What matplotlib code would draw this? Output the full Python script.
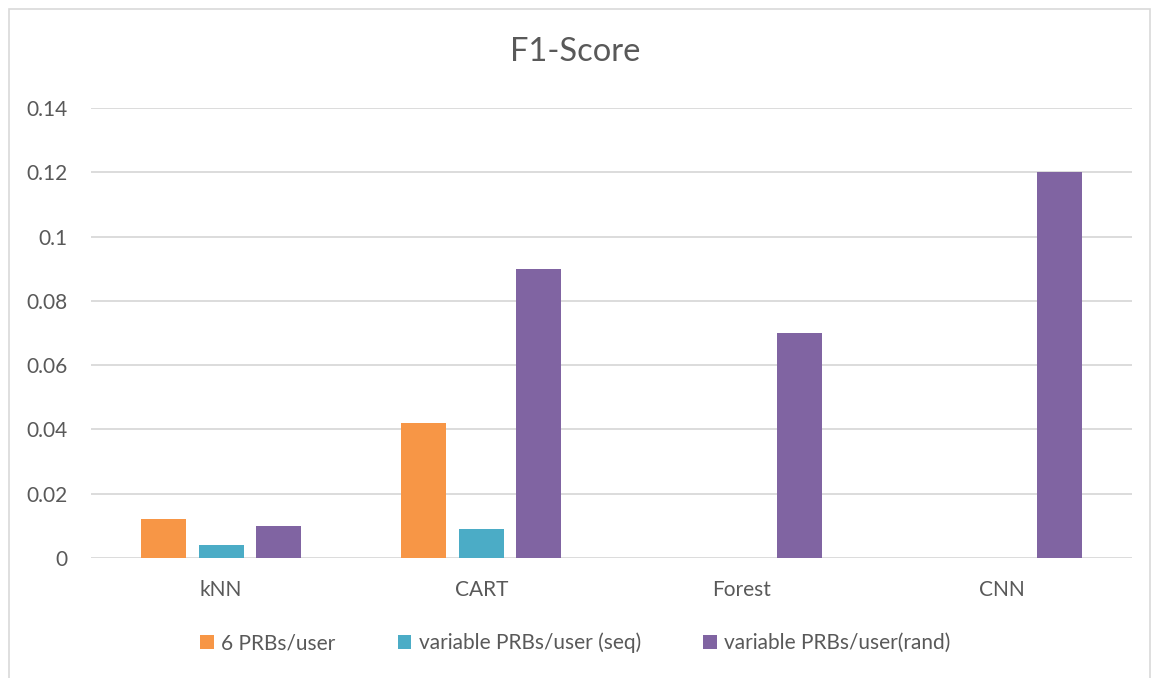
import matplotlib
matplotlib.use("Agg")
import matplotlib.pyplot as plt
from matplotlib.patches import Rectangle
import numpy as np

categories = ["kNN", "CART", "Forest", "CNN"]
series_names = ["6 PRBs/user", "variable PRBs/user (seq)", "variable PRBs/user(rand)"]
fixed_6prb = [0.012, 0.042, 0.0, 0.0]
variable_seq = [0.004, 0.009, 0.0, 0.0]
variable_rand = [0.010, 0.090, 0.070, 0.120]
y_ticks = [0, 0.02, 0.04, 0.06, 0.08, 0.1, 0.12, 0.14]
y_tick_labels = ["0", "0.02", "0.04", "0.06", "0.08", "0.1", "0.12", "0.14"]

colors = ["#F79646", "#4BACC6", "#8064A2"]
text_color = "#595959"
grid_color = "#D9D9D9"

plt.rcParams["font.family"] = ["Lato", "DejaVu Sans"]

W, H = 1151, 678
fig = plt.figure(figsize=(W / 100, H / 100), dpi=100)

# chart frame
fig.patches.append(Rectangle((9 / W, -0.05), (1150 - 9) / W, 1 - 9 / H + 0.05,
                             transform=fig.transFigure, fill=False,
                             edgecolor=grid_color, linewidth=1.2))

ax = fig.add_axes([91 / W, 1 - 558 / H, (1132 - 91) / W, (558 - 108) / H])

x = np.arange(len(categories))
bar_w = 0.173
step = 0.221
for i, (vals, name) in enumerate(zip([fixed_6prb, variable_seq, variable_rand], series_names)):
    ax.bar(x + (i - 1) * step, vals, width=bar_w, color=colors[i], label=name, zorder=3)

ax.set_xlim(-0.5, len(categories) - 0.5)
ax.set_ylim(0, 0.14)
ax.set_yticks(y_ticks)
ax.set_yticklabels(y_tick_labels)
ax.set_xticks(x)
ax.set_xticklabels(categories)
ax.tick_params(axis="both", length=0, labelsize=15, colors=text_color)
ax.tick_params(axis="y", pad=17)
ax.tick_params(axis="x", pad=16)
ax.yaxis.grid(True, color=grid_color, linewidth=1.3, zorder=0)
for s in ax.spines.values():
    s.set_visible(False)

fig.text(0.5, 1 - 52 / H, "F1-Score", ha="center", va="center",
         fontsize=23.5, color=text_color)

leg = fig.legend(loc="center", bbox_to_anchor=(0.5, 1 - 643 / H), ncol=3,
                 frameon=False, fontsize=15, handlelength=0.65, handleheight=0.65,
                 handletextpad=0.35, columnspacing=3.0)
for t in leg.get_texts():
    t.set_color(text_color)

fig.savefig("out.png", dpi=100)
